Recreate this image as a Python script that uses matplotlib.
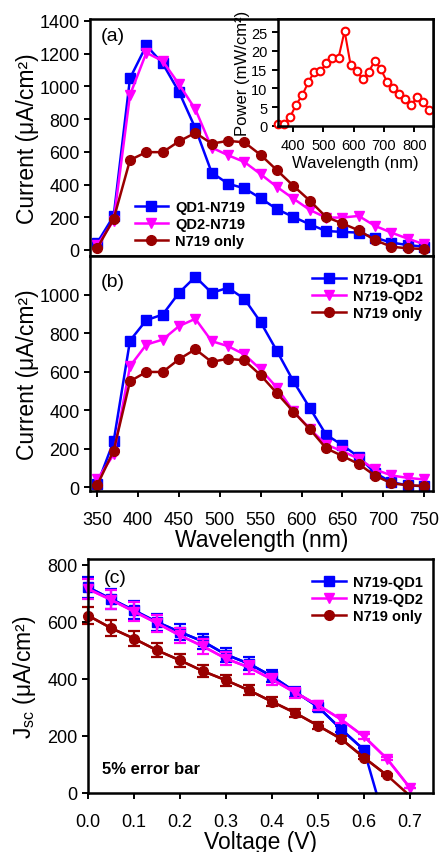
import numpy as np
from matplotlib import pyplot as plt

plt.rcParams['font.family'] = 'Liberation Sans'
plt.rcParams['mathtext.fontset'] = 'custom'
plt.rcParams['mathtext.rm'] = 'Liberation Sans'
plt.rcParams['mathtext.it'] = 'Liberation Sans:italic'
plt.rcParams['mathtext.bf'] = 'Liberation Sans:bold'

BLUE = "#0000ff"
MAGENTA = "#ff00ff"
MAROON = "#990000"
RED = "#ff0000"

# IPCE-type current spectra, wavelength in nm, current in uA/cm2
wl = [350, 370, 390, 410, 430, 450, 470, 490, 510, 530, 550,
      570, 590, 610, 630, 650, 670, 690, 710, 730, 750]
qd1_n719 = [45, 208, 1050, 1250, 1140, 966, 744, 473, 405, 377, 316,
            249, 202, 157, 116, 110, 106, 75, 45, 30, 20]
qd2_n719 = [30, 180, 948, 1206, 1155, 1013, 860, 626, 579, 538, 463,
            385, 314, 245, 198, 198, 208, 147, 106, 69, 35]
n719_only = [12, 190, 550, 598, 598, 664, 716, 650, 667, 658, 581,
             487, 392, 302, 202, 162, 120, 60, 20, 10, 6]
n719_qd1 = [15, 239, 761, 867, 896, 1009, 1092, 1009, 1035, 978, 856,
            706, 550, 412, 273, 218, 157, 74, 26, 9, 5]
n719_qd2 = [40, 170, 628, 740, 766, 836, 874, 758, 732, 689, 611,
            516, 394, 303, 221, 187, 147, 92, 61, 48, 40]

# lamp spectrum for the inset
sun_wl = [350, 370, 390, 410, 430, 450, 470, 490, 510, 530, 550, 570, 590,
          610, 630, 650, 670, 690, 710, 730, 750, 770, 790, 810, 830, 850]
sun_power = [0.4, 0.5, 2.4, 5.7, 8.2, 11.6, 14.5, 14.6, 16.7, 18.2, 18.2, 25.3, 16.2,
             14.6, 12.5, 14.5, 17.4, 15.1, 11.8, 10.1, 8.5, 7.2, 5.7, 7.6, 6.4, 4.2]

# J-V curves, last entry of QD1 and N719 only is the open-circuit point
v_qd1 = [0.0, 0.05, 0.1, 0.15, 0.2, 0.25, 0.3, 0.35, 0.4, 0.45, 0.5, 0.55, 0.6, 0.627]
j_qd1 = [721, 680, 640, 599, 564, 531, 485, 453, 409, 355, 302, 224, 151, 0]
v_qd2 = [0.0, 0.05, 0.1, 0.15, 0.2, 0.25, 0.3, 0.35, 0.4, 0.45, 0.5, 0.55, 0.6, 0.65, 0.7]
j_qd2 = [715, 677, 636, 595, 552, 514, 471, 440, 398, 352, 308, 258, 198, 120, 18]
v_n719 = [0.0, 0.05, 0.1, 0.15, 0.2, 0.25, 0.3, 0.35, 0.4, 0.45, 0.5, 0.55, 0.6, 0.65, 0.693]
j_n719 = [622, 578, 541, 500, 465, 427, 395, 360, 320, 281, 236, 190, 124, 62, 0]
err_frac = 0.05

W, H = 440, 853
fig = plt.figure(figsize=(W / 100, H / 100), dpi=100)

def box(l, t, r, b):
    return [l / W, 1 - b / H, (r - l) / W, (b - t) / H]

def style(ax, size=13, xpad=10):
    for s in ax.spines.values():
        s.set_linewidth(1.8)
    ax.tick_params(direction='out', length=4.5, width=1.4, labelsize=size,
                   top=False, right=False)
    ax.tick_params(axis='y', pad=3)
    ax.tick_params(axis='x', pad=xpad)

line_kw = dict(lw=1.8, ms=7, clip_on=False)
leg_kw = dict(frameon=False, prop={'weight': 'bold', 'size': 10.5},
              handlelength=2.3, labelspacing=0.2, handletextpad=0.5,
              borderpad=0.2)
current_label = "Current (μA/cm²)"

# (a)
ax1 = fig.add_axes(box(90, 20, 433, 257))
ax1.plot(wl, qd1_n719, '-s', color=BLUE, label="QD1-N719", **line_kw)
ax1.plot(wl, qd2_n719, '-v', color=MAGENTA, label="QD2-N719", **line_kw)
ax1.plot(wl, n719_only, '-o', color=MAROON, label="N719 only", **line_kw)
ax1.set_xlim(341, 761)
ax1.set_ylim(-37, 1412)
ax1.set_xticks(np.arange(350, 751, 50))
ax1.set_xticklabels([])
ax1.set_yticks(np.arange(0, 1401, 200))
style(ax1)
ax1.set_ylabel(current_label, fontsize=16.5)
ax1.yaxis.set_label_coords(-0.15, 0.5)
ax1.text(0.03, 0.93, "(a)", transform=ax1.transAxes, fontsize=14, va='center')
ax1.legend(loc='lower left', bbox_to_anchor=(0.1, -0.01), **leg_kw)

# inset: lamp power
axi = fig.add_axes(box(278, 20, 433, 127))
axi.plot(sun_wl, sun_power, '-o', color=RED, mfc='white', mec=RED, mew=1.5,
         lw=1.5, ms=5.5, clip_on=False)
axi.set_xlim(350, 862)
axi.set_ylim(0, 28.5)
axi.set_xticks([400, 500, 600, 700, 800])
axi.set_yticks([0, 5, 10, 15, 20, 25])
style(axi, size=10.5, xpad=4)
axi.set_xlabel("Wavelength (nm)", fontsize=12, labelpad=2)
axi.set_ylabel("Power (mW/cm²)", fontsize=12, labelpad=1)

# (b)
ax2 = fig.add_axes(box(90, 257, 433, 492))
ax2.plot(wl, n719_qd1, '-s', color=BLUE, label="N719-QD1", **line_kw)
ax2.plot(wl, n719_qd2, '-v', color=MAGENTA, label="N719-QD2", **line_kw)
ax2.plot(wl, n719_only, '-o', color=MAROON, label="N719 only", **line_kw)
ax2.set_xlim(341, 761)
ax2.set_ylim(-20, 1200)
ax2.set_xticks(np.arange(350, 751, 50))
ax2.set_yticks(np.arange(0, 1001, 200))
style(ax2)
ax2.set_xlabel("Wavelength (nm)", fontsize=16.5, labelpad=0)
ax2.set_ylabel(current_label, fontsize=16.5)
ax2.yaxis.set_label_coords(-0.15, 0.5)
ax2.text(0.03, 0.89, "(b)", transform=ax2.transAxes, fontsize=14, va='center')
ax2.legend(loc='upper right', bbox_to_anchor=(1.0, 0.975), **leg_kw)

# (c) J-V with 5% error bars
ax3 = fig.add_axes(box(88, 560, 433, 794))
err_kw = dict(fmt='none', elinewidth=1.6, capsize=4.3, capthick=1.6, clip_on=False)
series = [(v_qd1, j_qd1, BLUE, 's', "N719-QD1", True),
          (v_qd2, j_qd2, MAGENTA, 'v', "N719-QD2", False),
          (v_n719, j_n719, MAROON, 'o', "N719 only", True)]
for v, j, c, m, lab, has_voc in series:
    n = len(v) - 1 if has_voc else len(v)
    ax3.plot(v, j, '-', color=c, lw=1.8, clip_on=False)
    ax3.errorbar(v[:n], j[:n], yerr=np.array(j[:n]) * err_frac, ecolor=c, **err_kw)
    ax3.plot(v[:n], j[:n], '-' + m, color=c, label=lab, **line_kw)
ax3.set_xlim(0, 0.75)
ax3.set_ylim(0, 820)
ax3.set_xticks(np.arange(0, 0.71, 0.1))
ax3.set_xticklabels(["%.1f" % v for v in np.arange(0, 0.71, 0.1)])
ax3.set_yticks(np.arange(0, 801, 200))
style(ax3)
ax3.set_xlabel("Voltage (V)", fontsize=16.5, labelpad=0)
ax3.set_ylabel("J$_{\\mathrm{sc}}$ (μA/cm²)", fontsize=16.5)
ax3.yaxis.set_label_coords(-0.145, 0.5)
ax3.text(0.045, 0.92, "(c)", transform=ax3.transAxes, fontsize=14, va='center')
ax3.text(0.04, 0.105, "5% error bar", transform=ax3.transAxes, fontsize=12,
         fontweight='bold', va='center')
ax3.legend(loc='upper right', bbox_to_anchor=(1.0, 0.975), **leg_kw)

fig.savefig("out.png", dpi=100)
